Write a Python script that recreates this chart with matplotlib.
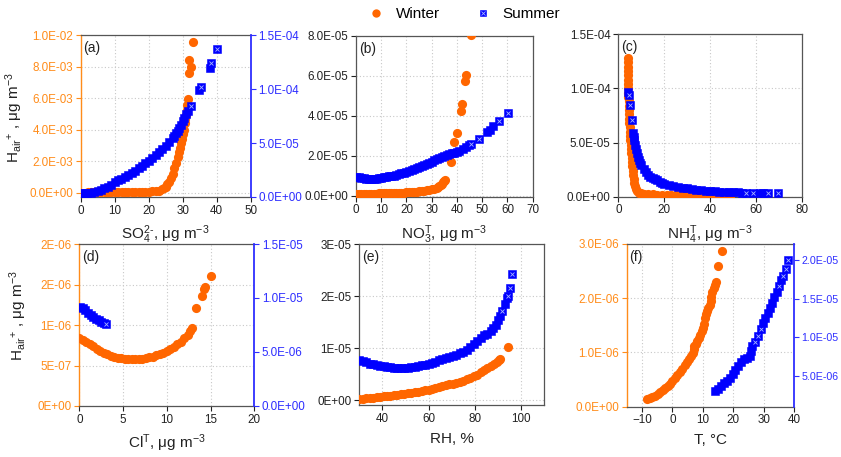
import matplotlib
matplotlib.use("Agg")
import matplotlib.pyplot as plt
import numpy as np
from matplotlib.lines import Line2D
from matplotlib.legend_handler import HandlerTuple

plt.rcParams["font.family"] = ["Liberation Sans", "DejaVu Sans"]
plt.rcParams["mathtext.fontset"] = "custom"
plt.rcParams["mathtext.rm"] = "Liberation Sans"
plt.rcParams["mathtext.it"] = "Liberation Sans:italic"
plt.rcParams["mathtext.bf"] = "Liberation Sans:bold"

# ---------------- data ----------------
# (a) H+ vs sulfate
a_win_x = [2, 3, 4, 5, 6, 7, 8, 9, 10, 11, 12, 13, 14, 15, 16, 17, 18, 19, 20, 21, 22, 23, 24, 24.5,
           25, 25.5, 26, 26.5, 27, 27.5, 28, 28.5, 29, 29.3, 29.6, 29.8, 30, 30.3, 30.6, 30.8, 31, 31.3,
           31.4, 31.6, 31.9, 32.4, 31.9, 32.9]
a_win_y = [2e-5, 2e-5, 2e-5, 2e-5, 2e-5, 2.5e-5, 2.5e-5, 3e-5, 3e-5, 3e-5, 3.5e-5, 3.5e-5, 4e-5, 4e-5,
           4.5e-5, 5e-5, 5e-5, 5.5e-5, 6e-5, 8e-5, 1.0e-4, 1.3e-4, 2.0e-4, 2.7e-4,
           3.8e-4, 5.2e-4, 7.0e-4, 9.3e-4, 1.2e-3, 1.55e-3, 1.9e-3, 2.25e-3, 2.6e-3, 2.85e-3, 3.15e-3,
           3.4e-3, 3.7e-3, 4.0e-3, 4.4e-3, 4.65e-3, 4.9e-3, 5.25e-3,
           5.56e-3, 5.94e-3, 7.57e-3, 7.99e-3, 8.41e-3, 9.57e-3]
a_sum_x = [0, 1, 2, 3, 4, 5, 6, 7, 8, 9, 10, 11, 12, 13, 14, 15, 16, 17, 18, 19, 20, 21, 22, 23, 24,
           25, 26, 27, 27.5, 28, 28.5, 29, 29.5, 30, 30.5, 31, 31.5, 32.4, 34.9, 35.4, 38.0, 38.3, 40.2]
a_sum_y = [3.5e-6, 3.5e-6, 3.6e-6, 3.8e-6, 4.3e-6, 5.2e-6, 6.5e-6, 8.0e-6, 9.6e-6, 11.5e-6, 13.6e-6,
           15.3e-6, 17.0e-6, 18.8e-6, 20.5e-6, 22.2e-6, 24.3e-6, 26.5e-6, 28.8e-6, 31.2e-6, 33.5e-6,
           36.0e-6, 38.6e-6, 41.3e-6, 44.3e-6, 47.5e-6, 51.0e-6, 54.6e-6, 56.6e-6, 59.0e-6, 61.5e-6,
           64.0e-6, 66.5e-6, 70.0e-6, 73.5e-6, 77.0e-6, 80.0e-6, 84.3e-6, 99.1e-6, 102.1e-6,
           119.7e-6, 123.8e-6, 137.3e-6]

# (b) H+ vs total nitrate
b_win_x = [0, 1, 2, 3, 4, 5, 6, 7, 8, 9, 10, 11, 12, 13, 14, 15, 16, 17, 18, 19, 20, 21, 22, 23, 24,
           25, 26, 27, 28, 29, 30, 31, 32, 32.5, 33, 33.5, 34, 34.5, 35, 35.3,
           37.6, 39.0, 40.0, 41.5, 41.8, 43.0, 43.5, 45.5]
b_win_y = [1.0e-6, 1.0e-6, 1.0e-6, 1.05e-6, 1.1e-6, 1.1e-6, 1.15e-6, 1.2e-6, 1.2e-6, 1.25e-6, 1.3e-6,
           1.35e-6, 1.4e-6, 1.45e-6, 1.5e-6, 1.5e-6, 1.55e-6, 1.6e-6, 1.65e-6, 1.7e-6, 1.75e-6,
           1.85e-6, 1.95e-6, 2.05e-6, 2.15e-6, 2.3e-6, 2.45e-6, 2.6e-6, 2.8e-6, 3.0e-6, 3.3e-6,
           3.7e-6, 4.2e-6, 4.6e-6, 5.1e-6, 5.6e-6, 6.2e-6, 6.9e-6, 7.6e-6, 8.0e-6,
           17.2e-6, 27.0e-6, 31.7e-6, 42.5e-6, 45.8e-6, 57.5e-6, 60.7e-6, 80.3e-6]
b_sum_x = [0, 1, 2, 3, 4, 5, 6, 7, 8, 9, 10, 11, 12, 13, 14, 15, 16, 17, 18, 19, 20, 21, 22, 23, 24,
           25, 26, 27, 28, 29, 30, 31, 32, 33, 34, 35, 36, 37, 38, 39, 40, 41,
           42.2, 43.5, 44.8, 45.6, 48.8, 52.0, 53.0, 54.4, 56.5, 60.1]
b_sum_y = [9.7e-6, 9.5e-6, 9.2e-6, 8.8e-6, 8.5e-6, 8.3e-6, 8.3e-6, 8.4e-6, 8.6e-6, 8.9e-6, 9.2e-6,
           9.4e-6, 9.6e-6, 9.8e-6, 10.0e-6, 10.2e-6, 10.5e-6, 10.9e-6, 11.3e-6, 11.7e-6, 12.2e-6,
           12.7e-6, 13.2e-6, 13.7e-6, 14.2e-6, 14.7e-6, 15.2e-6, 15.7e-6, 16.2e-6, 16.7e-6, 17.2e-6,
           17.8e-6, 18.3e-6, 18.9e-6, 19.4e-6, 20.0e-6, 20.5e-6, 20.9e-6, 21.3e-6, 21.7e-6, 22.0e-6,
           22.5e-6, 23.3e-6, 24.7e-6, 25.3e-6, 26.0e-6, 28.3e-6, 31.8e-6, 33.0e-6, 35.0e-6, 37.3e-6,
           41.7e-6]

# (c) H+ vs total ammonium
c_win_x = [4.05, 4.05, 4.1, 4.1, 4.15, 4.2, 4.25, 4.3, 4.35, 4.4, 4.45, 4.5, 4.6, 4.65, 4.75, 4.85,
           4.95, 5.05, 5.15, 5.25, 5.4, 5.5, 5.65, 5.8, 5.95, 6.1, 6.3, 6.5, 6.7, 6.9, 7.2, 7.6, 8.2,
           9, 10, 11, 13, 15, 17, 19, 21, 23, 25, 27, 29, 31, 33, 35, 37, 39, 41, 43, 45, 47, 48.5]
c_win_y = [128.5e-6, 124e-6, 120e-6, 116e-6, 112e-6, 108e-6, 104e-6, 100e-6, 96e-6, 92e-6, 88e-6,
           84e-6, 80e-6, 76e-6, 72e-6, 68e-6, 64e-6, 60e-6, 56e-6, 52e-6, 48e-6, 44e-6, 40e-6,
           36e-6, 32e-6, 28e-6, 24e-6, 20e-6, 16e-6, 12.5e-6, 9.5e-6, 7e-6, 5e-6, 3.8e-6, 3.0e-6,
           2.7e-6, 2.4e-6, 2.2e-6, 2.0e-6, 1.9e-6, 1.8e-6, 1.7e-6, 1.6e-6, 1.55e-6, 1.5e-6,
           1.45e-6, 1.4e-6, 1.3e-6, 1.25e-6, 1.2e-6, 1.1e-6, 1.05e-6, 1.0e-6, 0.95e-6, 0.9e-6]
c_sum_x = [4.35, 4.6, 5.1, 5.8, 6.5, 6.8, 7, 7.3, 7.7, 8, 8.5, 9, 9.5, 10, 11, 12, 13, 14, 15, 16, 17,
           18, 19, 20, 22, 24, 26, 28, 30, 32, 34, 36, 38, 40, 42, 44, 46, 48, 50, 52, 54, 55.5,
           58.8, 61.7, 63.1, 65.3, 69.7]
c_sum_y = [97e-6, 94e-6, 85e-6, 71e-6, 58.5e-6, 55e-6, 52e-6, 48e-6, 44e-6, 40e-6, 37e-6, 34e-6,
           31e-6, 29e-6, 25.5e-6, 22.5e-6, 20.5e-6, 18.5e-6, 17e-6, 16e-6, 15e-6, 14e-6, 13e-6,
           12e-6, 11e-6, 10e-6, 9e-6, 8.3e-6, 7.6e-6, 7e-6, 6.5e-6, 6e-6, 5.6e-6, 5.3e-6, 5e-6,
           4.8e-6, 4.5e-6, 4.3e-6, 4.1e-6, 4.0e-6, 3.8e-6, 3.7e-6, 3.7e-6, 3.7e-6, 3.7e-6, 3.7e-6,
           3.7e-6]

# (d) H+ vs total chloride
d_win_x = [0, 0.4, 0.8, 1.2, 1.6, 2.0, 2.4, 2.8, 3.2, 3.6, 4.0, 4.4, 4.8, 5.2, 5.6, 6.0, 6.4, 6.8,
           7.2, 7.6, 8.0, 8.4, 8.8, 9.2, 9.6, 10.0, 10.4, 10.8, 11.2, 11.6, 12.0, 12.4, 12.7, 12.9,
           13.3, 14.0, 14.3, 14.4, 15.0]
d_win_y = [8.35e-7, 8.1e-7, 7.85e-7, 7.6e-7, 7.35e-7, 7.05e-7, 6.8e-7, 6.6e-7, 6.4e-7, 6.2e-7,
           6.05e-7, 5.95e-7, 5.87e-7, 5.82e-7, 5.78e-7, 5.76e-7, 5.77e-7, 5.8e-7, 5.85e-7, 5.92e-7,
           6.0e-7, 6.1e-7, 6.25e-7, 6.4e-7, 6.6e-7, 6.8e-7, 7.05e-7, 7.3e-7, 7.6e-7, 7.95e-7,
           8.35e-7, 8.8e-7, 9.2e-7, 9.6e-7, 12.1e-7, 13.6e-7, 14.4e-7, 14.7e-7, 16.0e-7]
d_sum_x = [0.1, 0.4, 0.7, 1.0, 1.3, 1.6, 1.9, 2.2, 2.5, 2.8, 3.05]
d_sum_y = [9.2e-6, 9.05e-6, 8.85e-6, 8.65e-6, 8.45e-6, 8.27e-6, 8.1e-6, 7.95e-6, 7.8e-6, 7.65e-6,
           7.56e-6]

# (e) H+ vs relative humidity
e_win_x = [30, 31.5, 33, 34.5, 36, 37.5, 39, 40.5, 42, 43.5, 45, 46.5, 48, 49.5, 51, 52.5, 54, 55.5,
           57, 58.5, 60, 61.5, 63, 64.5, 66, 67.5, 69, 70.5, 72, 73.5, 75, 76.5, 78, 79.5, 81, 82.5,
           84, 85.5, 87, 88.5, 89.5, 90.5, 91, 94.6]
e_win_y = [0.2e-6, 0.28e-6, 0.35e-6, 0.42e-6, 0.48e-6, 0.55e-6, 0.62e-6, 0.7e-6, 0.77e-6, 0.85e-6,
           0.92e-6, 1.0e-6, 1.1e-6, 1.2e-6, 1.3e-6, 1.4e-6, 1.5e-6, 1.6e-6, 1.72e-6, 1.85e-6,
           1.98e-6, 2.12e-6, 2.28e-6, 2.45e-6, 2.62e-6, 2.8e-6, 3.0e-6, 3.15e-6, 3.3e-6, 3.5e-6,
           3.75e-6, 3.95e-6, 4.25e-6, 4.55e-6, 4.9e-6, 5.3e-6, 5.7e-6, 6.1e-6, 6.5e-6, 6.9e-6,
           7.3e-6, 7.65e-6, 7.8e-6, 10.2e-6]
e_sum_x = [30, 31.5, 33, 34.5, 36, 37.5, 39, 40.5, 42, 43.5, 45, 46.5, 48, 49.5, 51, 52.5, 54, 55.5,
           57, 58.5, 60, 61.5, 63, 64.5, 66, 67.5, 69, 70.5, 72, 73.5, 75, 76.5, 78, 79.5, 81, 82.5,
           84, 85.5, 87, 88, 89, 90, 91, 92, 93, 93.8, 94.5, 95.2, 96.3]
e_sum_y = [7.7e-6, 7.5e-6, 7.25e-6, 7.0e-6, 6.85e-6, 6.7e-6, 6.6e-6, 6.5e-6, 6.4e-6, 6.3e-6,
           6.2e-6, 6.2e-6, 6.15e-6, 6.2e-6, 6.25e-6, 6.3e-6, 6.4e-6, 6.5e-6, 6.65e-6, 6.8e-6,
           7.0e-6, 7.2e-6, 7.4e-6, 7.6e-6, 7.85e-6, 8.1e-6, 8.3e-6, 8.5e-6, 8.75e-6, 9.0e-6,
           9.3e-6, 9.7e-6, 10.1e-6, 10.7e-6, 11.3e-6, 12.0e-6, 12.5e-6, 12.7e-6, 13.2e-6, 13.8e-6,
           14.5e-6, 15.3e-6, 16.1e-6, 17.2e-6, 18.5e-6, 19.6e-6, 20.0e-6, 21.6e-6, 24.2e-6]

# (f) H+ vs temperature
f_win_x = [-8.4, -7.5, -6.6, -5.7, -4.8, -4.0, -3.2, -2.4, -1.6, -0.8, 0, 0.8, 1.6, 2.4, 3.2, 4.0,
           4.8, 5.5, 6.2, 6.8, 7.0, 7.2, 7.6, 8.1, 8.6, 9.1, 9.6, 10.0, 10.3, 10.6, 10.9, 11.3, 11.8,
           12.3, 12.6, 12.8, 13.1, 13.5, 14.0, 14.4, 14.9, 16.3]
f_win_y = [1.4e-7, 1.6e-7, 1.8e-7, 2.05e-7, 2.35e-7, 2.7e-7, 3.05e-7, 3.4e-7, 3.8e-7, 4.25e-7,
           4.75e-7, 5.25e-7, 5.8e-7, 6.4e-7, 7.0e-7, 7.6e-7, 8.2e-7, 8.8e-7, 9.4e-7, 9.9e-7,
           10.6e-7, 11.2e-7, 11.6e-7, 12.2e-7, 12.7e-7, 13.3e-7, 14.0e-7, 14.6e-7, 15.3e-7,
           16.3e-7, 17.1e-7, 17.6e-7, 18.2e-7, 18.8e-7, 19.4e-7, 20.3e-7, 21.2e-7, 21.8e-7,
           22.4e-7, 23.0e-7, 26.0e-7, 28.8e-7]
f_sum_x = [14.0, 15.0, 16.0, 17.0, 18.0, 19.0, 20.0, 20.7, 21.5, 22.5, 23.5, 24.5, 25.5, 25.8, 26.2,
           27.0, 28.0, 29.0, 29.8, 30.5, 31.3, 32.0, 32.7, 33.5, 34.3, 35.0, 35.7, 36.2, 37.2, 38.0]
f_sum_y = [3.0e-6, 3.3e-6, 3.6e-6, 4.0e-6, 4.35e-6, 4.75e-6, 5.2e-6, 5.8e-6, 6.3e-6, 6.75e-6,
           7.1e-6, 7.3e-6, 7.5e-6, 8.2e-6, 8.9e-6, 9.4e-6, 10.2e-6, 11.0e-6, 11.8e-6, 12.5e-6,
           13.2e-6, 13.8e-6, 14.5e-6, 15.2e-6, 15.9e-6, 16.6e-6, 17.4e-6, 18.0e-6, 18.8e-6, 20.0e-6]

# ---------------- styling ----------------
WINTER = "#FF6600"
SUMMER = "#0000FF"
ORANGE_AX = "#FF8C1A"
BLUE_AX = "#2E2EFF"
FRAME = "#555555"
TXT = "#222222"
CROSS = "#A8B4FF"
UNIT = r"μg m$^{-3}$"
YLABEL = r"H$_{\mathrm{air}}$$^{+}$ , " + UNIT
SQ_MS = 5.9          # summer square size (pt)
COVER_PX = 6.0       # a later square this close hides an earlier marker's cross

W, H = 841, 457
fig = plt.figure(figsize=(W / 100, H / 100), dpi=100)


def box(l, t, r, b):
    return [l / W, 1 - b / H, (r - l) / W, (b - t) / H]


def style(ax, xlim, xticks, ylim, yticks, fmt_labels, letter, xlabel):
    ax.set_xlim(*xlim)
    ax.set_xticks(xticks)
    ax.set_ylim(*ylim)
    ax.set_yticks(yticks)
    ax.set_yticklabels(fmt_labels)
    for s in ax.spines.values():
        s.set_color(FRAME)
        s.set_linewidth(0.9)
    ax.tick_params(direction="out", length=3.5, width=0.8, labelsize=8.4,
                   colors=TXT, pad=2)
    ax.grid(True, color="#C8C8C8", ls=(0, (1, 2)), lw=0.8)
    ax.set_axisbelow(True)
    ax.text(0.015, 0.965, letter, transform=ax.transAxes, fontsize=10,
            va="top", ha="left", color=TXT)
    ax.set_xlabel(xlabel, fontsize=11, color=TXT, labelpad=5)


def colour_left(ax):
    ax.spines["left"].set_color(ORANGE_AX)
    ax.spines["left"].set_linewidth(1.0)
    ax.tick_params(axis="y", colors=ORANGE_AX)


def add_right(ax, ylim, yticks, labels, size=8.4):
    ax2 = ax.twinx()
    ax2.set_ylim(*ylim)
    ax2.set_yticks(yticks)
    ax2.set_yticklabels(labels)
    for s in ("left", "top", "bottom"):
        ax2.spines[s].set_visible(False)
    ax.spines["right"].set_visible(False)
    ax2.spines["right"].set_color(BLUE_AX)
    ax2.spines["right"].set_linewidth(1.3)
    ax2.tick_params(axis="y", direction="out", length=3.5, width=0.8,
                    labelsize=size, colors=BLUE_AX, pad=2)
    return ax2


def winter(ax, x, y):
    ax.plot(x, y, ls="none", marker="o", ms=6.6, mfc=WINTER, mec=WINTER,
            mew=0, zorder=3)


def summer(ax, x, y):
    # squares with a light cross; a cross stays visible only where no later
    # square is drawn on top of it
    pix = ax.transData.transform(np.column_stack([x, y]))
    n = len(x)
    for i in range(n):
        ax.plot([x[i]], [y[i]], ls="none", marker="s", ms=SQ_MS, mfc=SUMMER,
                mec=SUMMER, mew=0.4, zorder=4)
        later = pix[i + 1:]
        covered = len(later) > 0 and np.any(
            np.max(np.abs(later - pix[i]), axis=1) < COVER_PX)
        if not covered:
            ax.plot([x[i]], [y[i]], ls="none", marker="x", ms=3.2, mec=CROSS,
                    mew=0.6, zorder=4)


def sci(vals, f):
    return [f % v for v in vals]


# (a)
ax = fig.add_axes(box(80.7, 35, 250.7, 197))
ticks = [0, 2e-3, 4e-3, 6e-3, 8e-3, 1e-2]
style(ax, (0, 50), range(0, 51, 10), (-2.8e-4, 1e-2), ticks, sci(ticks, "%.1E"), "(a)",
      r"SO$_4^{2\text{-}}$, " + UNIT)
colour_left(ax)
winter(ax, a_win_x, a_win_y)
rt = [0, 5e-5, 1e-4, 1.5e-4]
ax2 = add_right(ax, (0, 1.5e-4), rt, sci(rt, "%.1E"))
summer(ax2, a_sum_x, a_sum_y)
ax.set_ylabel(YLABEL, fontsize=11, color=TXT)
ax.yaxis.set_label_coords(-0.325, 0.49)

# (b)
ax = fig.add_axes(box(356, 36, 532.7, 196.7))
ticks = [0, 2e-5, 4e-5, 6e-5, 8e-5]
style(ax, (0, 70), range(0, 71, 10), (-4e-7, 8e-5), ticks, sci(ticks, "%.1E"), "(b)",
      r"NO$_3^{\mathrm{T}}$, " + UNIT)
winter(ax, b_win_x, b_win_y)
summer(ax, b_sum_x, b_sum_y)

# (c)
ax = fig.add_axes(box(618.3, 34.3, 802, 196.7))
ticks = [0, 5e-5, 1e-4, 1.5e-4]
style(ax, (0, 80), range(0, 81, 20), (0, 1.5e-4), ticks, sci(ticks, "%.1E"), "(c)",
      r"NH$_4^{\mathrm{T}}$, " + UNIT)
winter(ax, c_win_x, c_win_y)
summer(ax, c_sum_x, c_sum_y)

# (d)
ax = fig.add_axes(box(79.3, 244, 254.3, 406))
ticks = [0, 5e-7, 1e-6, 1.5e-6, 2e-6]
style(ax, (0, 20), range(0, 21, 5), (0, 2e-6), ticks,
      ["0E+00", "5E-07", "1E-06", "2E-06", "2E-06"], "(d)",
      r"Cl$^{\mathrm{T}}$, " + UNIT)
colour_left(ax)
winter(ax, d_win_x, d_win_y)
rt = [0, 5e-6, 1e-5, 1.5e-5]
ax2 = add_right(ax, (0, 1.5e-5), rt, sci(rt, "%.1E"))
summer(ax2, d_sum_x, d_sum_y)
ax.set_ylabel(YLABEL, fontsize=11, color=TXT)
ax.yaxis.set_label_coords(-0.29, 0.56)

# (e)
ax = fig.add_axes(box(359.3, 244, 544, 405))
ticks = [0, 1e-5, 2e-5, 3e-5]
style(ax, (30, 110), range(40, 101, 20), (-9.6e-7, 3e-5), ticks,
      ["0E+00", "1E-05", "2E-05", "3E-05"], "(e)", "RH, %")
winter(ax, e_win_x, e_win_y)
summer(ax, e_sum_x, e_sum_y)

# (f)
ax = fig.add_axes(box(626.7, 244, 794.3, 406.7))
ticks = [0, 1e-6, 2e-6, 3e-6]
style(ax, (-15, 40), range(-10, 41, 10), (0, 3e-6), ticks, sci(ticks, "%.1E"), "(f)",
      "T, °C")
colour_left(ax)
winter(ax, f_win_x, f_win_y)
rt = [5e-6, 1e-5, 1.5e-5, 2e-5]
ax2 = add_right(ax, (9.7e-7, 2.21e-5), rt, sci(rt, "%.1E"), size=7.7)
ax2.tick_params(axis="y", pad=1.5)
summer(ax2, f_sum_x, f_sum_y)

# legend
h_win = Line2D([], [], ls="none", marker="o", ms=6.0, mfc=WINTER, mec=WINTER, mew=0)
h_sq = Line2D([], [], ls="none", marker="s", ms=4.4, mfc=SUMMER, mec=SUMMER, mew=0.4)
h_x = Line2D([], [], ls="none", marker="x", ms=2.8, mec=CROSS, mew=0.6)
fig.legend([h_win, (h_sq, h_x)], ["Winter", "Summer"], loc="center",
           bbox_to_anchor=(0.552, 0.969), ncol=2, frameon=False, fontsize=11,
           handlelength=1.0, handletextpad=0.8, columnspacing=2.3,
           handler_map={tuple: HandlerTuple(ndivide=1)})

fig.savefig("out.png", dpi=100)
